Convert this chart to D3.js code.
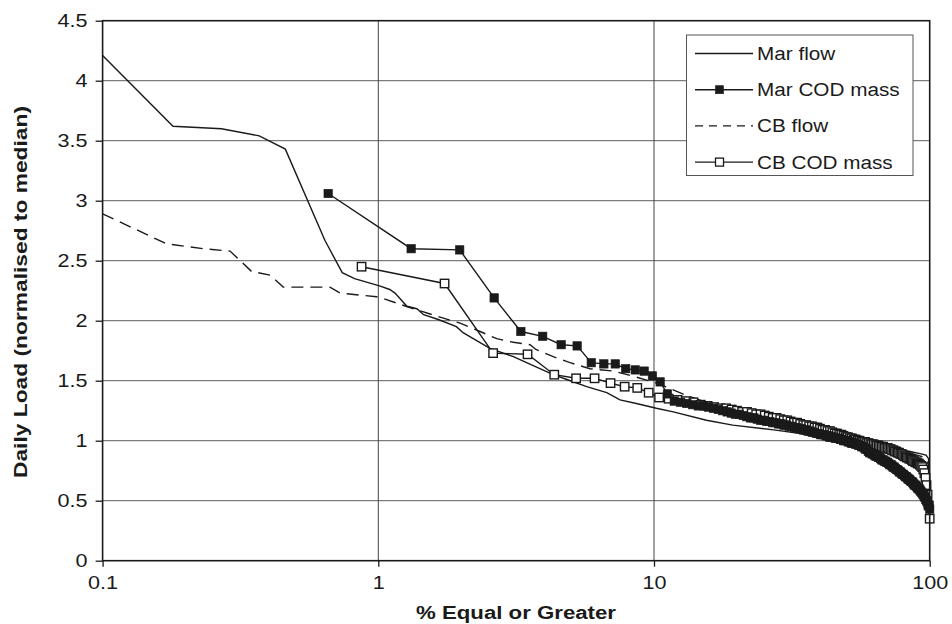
<!DOCTYPE html>
<html>
<head>
<meta charset="utf-8">
<script src="https://cdn.jsdelivr.net/npm/d3@7"></script>
<style>
  body { margin: 0; background: #fff; }
  text { font-family: "Liberation Sans", Arial, sans-serif; fill: #1a1a1a; }
</style>
</head>
<body>
<script>
// Data
const xTicks = [0.1, 1, 10, 100]
const yTicks = [0, 0.5, 1, 1.5, 2, 2.5, 3, 3.5, 4, 4.5]

const marFlowPct = [0.1, 0.18, 0.27, 0.37, 0.46, 0.64, 0.74, 0.82, 1.01, 1.1, 1.15, 1.27, 1.38, 1.46, 1.65, 1.92, 2.03, 2.21, 2.54, 3.09, 3.45, 4.31, 4.83, 5.7, 6.74, 7.53, 8.63, 10.2, 11.75, 15.5, 19.3, 27.2, 34, 45, 55, 65, 75, 85, 93, 97, 99, 99.7, 100]
const marFlowVal = [4.21, 3.62, 3.6, 3.54, 3.43, 2.67, 2.4, 2.35, 2.29, 2.26, 2.23, 2.12, 2.1, 2.05, 2.01, 1.95, 1.9, 1.85, 1.77, 1.7, 1.65, 1.55, 1.51, 1.45, 1.4, 1.34, 1.31, 1.27, 1.24, 1.17, 1.13, 1.09, 1.06, 1.02, 0.99, 0.96, 0.93, 0.91, 0.89, 0.88, 0.85, 0.75, 0.62]

const cbFlowPct = [0.1, 0.171, 0.232, 0.29, 0.347, 0.405, 0.452, 0.668, 0.727, 0.985, 1.057, 1.3, 1.675, 1.98, 2.34, 2.69, 3.09, 3.55, 3.73, 4.31, 4.96, 5.86, 7.12, 8.63, 10.2, 11, 12.7, 15, 20, 30, 40, 50, 60, 70, 80, 90, 96, 99, 100]
const cbFlowVal = [2.89, 2.64, 2.6, 2.58, 2.41, 2.38, 2.28, 2.28, 2.23, 2.2, 2.18, 2.11, 2.03, 1.98, 1.91, 1.85, 1.82, 1.8, 1.76, 1.7, 1.65, 1.6, 1.58, 1.53, 1.48, 1.45, 1.39, 1.33, 1.25, 1.16, 1.09, 1.02, 0.98, 0.94, 0.91, 0.88, 0.86, 0.8, 0.6]

// COD mass: daily values in rank order (plotted at rank / count %)
const marCodVal = [
  3.06, 2.60, 2.59, 2.19, 1.91, 1.87, 1.80, 1.79, 1.65, 1.64, 1.64, 1.60, 1.59, 1.58, 1.54, 1.49, 1.39, 1.33,
  1.32, 1.31, 1.30, 1.29, 1.29, 1.28, 1.27, 1.26, 1.25, 1.24, 1.23, 1.22,
  1.22, 1.21, 1.20, 1.19, 1.19, 1.18, 1.17, 1.17, 1.16, 1.16,
  1.15, 1.15, 1.14, 1.14, 1.13, 1.13, 1.12, 1.12, 1.11, 1.11,
  1.10, 1.10, 1.09, 1.09, 1.08, 1.08, 1.07, 1.07, 1.06, 1.06,
  1.05, 1.05, 1.05, 1.04, 1.04, 1.03, 1.03, 1.03, 1.02, 1.02,
  1.02, 1.01, 1.01, 1.00, 1.00, 1.00, 0.99, 0.99, 0.98, 0.98,
  0.98, 0.97, 0.97, 0.96, 0.96, 0.95, 0.95, 0.94, 0.93, 0.93,
  0.91, 0.90, 0.90, 0.89, 0.89, 0.88, 0.87, 0.87, 0.86, 0.86,
  0.85, 0.84, 0.84, 0.83, 0.83, 0.82, 0.82, 0.81, 0.80, 0.80,
  0.79, 0.78, 0.78, 0.77, 0.76, 0.76, 0.75, 0.74, 0.74, 0.73,
  0.72, 0.72, 0.71, 0.70, 0.70, 0.69, 0.68, 0.68, 0.67, 0.66,
  0.66, 0.65, 0.64, 0.63, 0.63, 0.62, 0.61, 0.60, 0.60, 0.59,
  0.58, 0.57, 0.56, 0.55, 0.54, 0.53, 0.51, 0.50, 0.49, 0.47,
  0.46, 0.43
]
const cbCodVal = [
  2.45, 2.31, 1.73, 1.72, 1.55, 1.52, 1.52, 1.48, 1.45, 1.44, 1.40, 1.36, 1.35,
  1.34, 1.33, 1.32, 1.30, 1.29, 1.28, 1.27,
  1.27, 1.26, 1.25, 1.24, 1.24, 1.23, 1.22, 1.22, 1.21, 1.20,
  1.19, 1.19, 1.18, 1.17, 1.17, 1.16, 1.15, 1.15, 1.14, 1.13,
  1.13, 1.12, 1.12, 1.11, 1.11, 1.10, 1.09, 1.09, 1.08, 1.08,
  1.07, 1.06, 1.06, 1.05, 1.05, 1.04, 1.03, 1.03, 1.02, 1.02,
  1.01, 1.01, 1.00, 1.00, 0.99, 0.99, 0.99, 0.98, 0.98, 0.97,
  0.97, 0.97, 0.96, 0.96, 0.96, 0.95, 0.95, 0.95, 0.94, 0.94,
  0.94, 0.93, 0.93, 0.92, 0.92, 0.91, 0.91, 0.90, 0.90, 0.89,
  0.89, 0.88, 0.87, 0.87, 0.86, 0.86, 0.85, 0.85, 0.84, 0.83,
  0.83, 0.82, 0.82, 0.81, 0.81, 0.80, 0.79, 0.78, 0.76, 0.73,
  0.69, 0.63, 0.55, 0.46, 0.35
]

const legendNames = ["Mar flow", "Mar COD mass", "CB flow", "CB COD mass"]

// Layout
const W = 952, H = 624
const plot = { left: 102.6, right: 929.7, top: 20.7, bottom: 560.7 }
const ink = "#1a1a1a"
const msize = 8.4

const x = d3.scaleLog().domain([0.1, 100]).range([plot.left, plot.right])
const y = d3.scaleLinear().domain([0, 4.5]).range([plot.bottom, plot.top])

const svg = d3.select("body").append("svg")
  .attr("width", W).attr("height", H)

// the original text is a little stretched horizontally
const widen = k => sel => sel.each(function () {
  const len = this.getComputedTextLength()
  d3.select(this).attr("textLength", len * k).attr("lengthAdjust", "spacingAndGlyphs")
})
const fit = len => sel => sel.attr("textLength", len).attr("lengthAdjust", "spacingAndGlyphs")

// Gridlines
svg.append("g").selectAll("line")
  .data(yTicks.filter(d => d > 0 && d < 4.5))
  .enter().append("line")
  .attr("x1", plot.left).attr("x2", plot.right)
  .attr("y1", d => y(d)).attr("y2", d => y(d))
  .attr("stroke", "#5e5e5e").attr("stroke-width", 1)

svg.append("g").selectAll("line")
  .data([1, 10])
  .enter().append("line")
  .attr("x1", d => x(d)).attr("x2", d => x(d))
  .attr("y1", plot.top).attr("y2", plot.bottom)
  .attr("stroke", "#444").attr("stroke-width", 1)

// Series
const zip = (xs, ys) => xs.map((v, i) => [v, ys[i]])
const ranked = vals => vals.map((v, i) => [100 * (i + 1) / vals.length, v])

const line = d3.line().x(d => x(d[0])).y(d => y(d[1]))

const drawLine = (data, dash) => svg.append("path")
  .datum(data)
  .attr("d", line)
  .attr("fill", "none")
  .attr("stroke", ink)
  .attr("stroke-width", 1.4)
  .attr("stroke-dasharray", dash || null)

const drawMarkers = (data, filled) => svg.append("g").selectAll("rect")
  .data(data)
  .enter().append("rect")
  .attr("x", d => x(d[0]) - msize / 2)
  .attr("y", d => y(d[1]) - msize / 2)
  .attr("width", msize).attr("height", msize)
  .attr("fill", filled ? ink : "#fff")
  .attr("stroke", ink)
  .attr("stroke-width", filled ? 0.6 : 1.4)

const marFlow = zip(marFlowPct, marFlowVal)
const cbFlow = zip(cbFlowPct, cbFlowVal)
const marCod = ranked(marCodVal)
const cbCod = ranked(cbCodVal)

drawLine(marFlow)
drawLine(cbFlow, "12,7")
drawLine(cbCod)
drawMarkers(cbCod, false)
drawLine(marCod)
drawMarkers(marCod, true)

// Axes
const yAxis = d3.axisLeft(y).tickValues(yTicks).tickSize(7).tickPadding(8).tickFormat(d => String(d))
const gy = svg.append("g")
  .attr("transform", `translate(${plot.left},0)`)
  .call(yAxis)
gy.select(".domain").remove()
gy.selectAll("line").attr("stroke", ink).attr("stroke-width", 1.3)
gy.selectAll("text").style("font-size", "18px").attr("fill", ink).call(widen(1.2))

const xAxis = d3.axisBottom(x).tickValues(xTicks).tickSize(6).tickPadding(10).tickFormat(d => String(d))
const gx = svg.append("g")
  .attr("transform", `translate(0,${plot.bottom})`)
  .call(xAxis)
gx.select(".domain").remove()
gx.selectAll("line").attr("stroke", ink).attr("stroke-width", 1.3)
gx.selectAll("text").style("font-size", "18px").attr("fill", ink).call(widen(1.2))

// Plot border
svg.append("rect")
  .attr("x", plot.left).attr("y", plot.top)
  .attr("width", plot.right - plot.left).attr("height", plot.bottom - plot.top)
  .attr("fill", "none").attr("stroke", ink).attr("stroke-width", 1.6)

// Axis titles
svg.append("text")
  .attr("x", 516)
  .attr("y", 619)
  .attr("text-anchor", "middle")
  .style("font-size", "18px").style("font-weight", "bold")
  .text("% Equal or Greater")
  .call(fit(200))

svg.append("text")
  .attr("transform", `translate(27,292) rotate(-90)`)
  .attr("text-anchor", "middle")
  .style("font-size", "18px").style("font-weight", "bold")
  .text("Daily Load (normalised to median)")
  .call(fit(372))

// Legend
const lg = svg.append("g")
lg.append("rect")
  .attr("x", 686.5).attr("y", 35)
  .attr("width", 226.5).attr("height", 140.5)
  .attr("fill", "#fff").attr("stroke", "#555").attr("stroke-width", 1)

const rowY = i => 53.5 + i * 36.2
legendNames.forEach((name, i) => {
  lg.append("line")
    .attr("x1", 695).attr("x2", 753)
    .attr("y1", rowY(i)).attr("y2", rowY(i))
    .attr("stroke", ink).attr("stroke-width", 1.4)
    .attr("stroke-dasharray", i === 2 ? "8,6" : null)
  if (i === 1 || i === 3) {
    lg.append("rect")
      .attr("x", 719.5 - 4).attr("y", rowY(i) - 4)
      .attr("width", 8).attr("height", 8)
      .attr("fill", i === 1 ? ink : "#fff")
      .attr("stroke", ink).attr("stroke-width", i === 1 ? 0.6 : 1.3)
  }
  lg.append("text")
    .attr("x", 757).attr("y", rowY(i) + 6.5)
    .style("font-size", "18px")
    .text(name)
    .call(widen(1.15))
})
</script>
</body>
</html>
